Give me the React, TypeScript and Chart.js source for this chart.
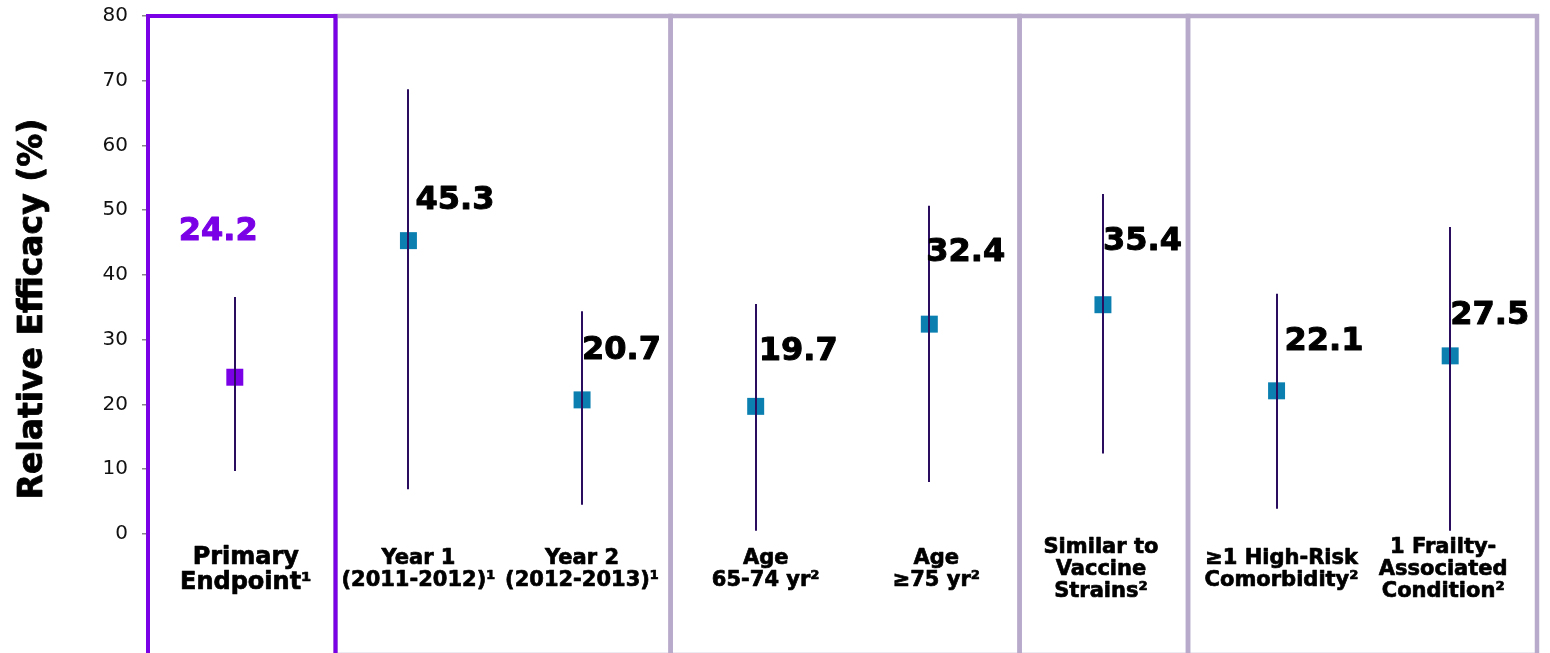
import React, { useEffect, useRef } from 'react';
import { Chart, registerables } from 'chart.js';

Chart.register(...registerables);

// ---- data ----
const categories: string[][] = [
  ['Primary', 'Endpoint¹'],
  ['Year 1', '(2011-2012)¹'],
  ['Year 2', '(2012-2013)¹'],
  ['Age', '65-74 yr²'],
  ['Age', '≥75 yr²'],
  ['Similar to', 'Vaccine', 'Strains²'],
  ['≥1 High-Risk', 'Comorbidity²'],
  ['1 Frailty-', 'Associated', 'Condition²'],
];
const efficacy = [24.2, 45.3, 20.7, 19.7, 32.4, 35.4, 22.1, 27.5];
const ciLower = [9.7, 6.9, 4.5, 0.5, 8.0, 12.4, 3.9, 0.5];
const ciUpper = [36.6, 68.7, 34.4, 35.5, 50.7, 52.5, 37.1, 47.4];
const yTickValues = [0, 10, 20, 30, 40, 50, 60, 70, 80];
const yAxisTitle = 'Relative Efficacy (%)';

// ---- style / layout ----
const PURPLE = '#7a00e6';
const TEAL = '#0a7fb0';
const PANEL_GRAY = '#b8aacb';
const ERR_COLOR = '#2a0d5e';
const FONT = '"DejaVu Sans", Verdana, sans-serif';
const panelEdges = [-0.5, 0.58, 2.51, 4.52, 5.49, 7.5];
const valueLabelOffsets: [number, number][] = [
  [-56, -146], [7, -40], [0, -49], [3, -55], [-3, -71], [0, -63], [8, -49], [0, -40],
];
const categoryDx = [11, 10, 0, 10, 7, -2, 5, -7];

function boldText(ctx: CanvasRenderingContext2D, t: string, x: number, y: number, w: number) {
  ctx.lineWidth = w;
  ctx.strokeStyle = ctx.fillStyle as string;
  ctx.lineJoin = 'round';
  ctx.strokeText(t, x, y);
  ctx.fillText(t, x, y);
}

const overlayPlugin = {
  id: 'overlay',
  beforeDatasetsDraw(chart: any) {
    const { ctx, chartArea, scales } = chart;
    const x = scales.x;
    const y = scales.y;
    const top = y.getPixelForValue(80);
    const bottom = chartArea.bottom + 2;
    ctx.save();
    ctx.strokeStyle = PANEL_GRAY;
    ctx.lineWidth = 4.5;
    for (let i = 1; i < panelEdges.length - 1; i++) {
      const l = x.getPixelForValue(panelEdges[i]);
      const r = x.getPixelForValue(panelEdges[i + 1]);
      ctx.strokeRect(l, top, r - l, bottom - top);
    }
    ctx.strokeStyle = PURPLE;
    ctx.lineWidth = 4;
    const l0 = x.getPixelForValue(panelEdges[0]);
    const r0 = x.getPixelForValue(panelEdges[1]);
    ctx.strokeRect(l0, top, r0 - l0, bottom - top);
    ctx.restore();
  },
  afterDatasetsDraw(chart: any) {
    const { ctx, scales } = chart;
    const x = scales.x;
    const y = scales.y;
    ctx.save();
    // error bars
    ctx.strokeStyle = ERR_COLOR;
    ctx.lineWidth = 2;
    efficacy.forEach((_, i) => {
      const px = Math.round(x.getPixelForValue(i));
      ctx.beginPath();
      ctx.moveTo(px, y.getPixelForValue(ciUpper[i]));
      ctx.lineTo(px, y.getPixelForValue(ciLower[i]));
      ctx.stroke();
    });
    // value labels
    ctx.font = `bold 32px ${FONT}`;
    ctx.textAlign = 'left';
    ctx.textBaseline = 'middle';
    efficacy.forEach((v, i) => {
      const px = x.getPixelForValue(i);
      const py = y.getPixelForValue(v);
      ctx.fillStyle = i === 0 ? PURPLE : '#000';
      boldText(ctx, v.toFixed(1), px + valueLabelOffsets[i][0], py + valueLabelOffsets[i][1], 1);
    });
    ctx.restore();
  },
  afterDraw(chart: any) {
    const { ctx, scales } = chart;
    const x = scales.x;
    ctx.save();
    ctx.fillStyle = '#000';
    ctx.textAlign = 'center';
    ctx.textBaseline = 'middle';
    categories.forEach((lines, i) => {
      const primary = i === 0;
      const size = primary ? 24 : 21;
      const lh = primary ? 25 : 22;
      ctx.font = `bold ${size}px ${FONT}`;
      const cx = x.getPixelForValue(i) + categoryDx[i];
      const cy = 570;
      const start = cy - ((lines.length - 1) * lh) / 2;
      lines.forEach((t, k) => boldText(ctx, t, cx, start + k * lh, 0.7));
    });
    // y-axis title
    ctx.translate(33, 309);
    ctx.rotate(-Math.PI / 2);
    ctx.font = `bold 33px ${FONT}`;
    boldText(ctx, yAxisTitle, 0, 0, 0.8);
    ctx.restore();
  },
};

export default function App() {
  const ref = useRef<HTMLCanvasElement>(null);
  useEffect(() => {
    if (!ref.current) return;
    const chart = new Chart(ref.current, {
      type: 'scatter',
      data: {
        datasets: [
          {
            data: efficacy.map((v, i) => ({ x: i, y: v })),
            pointStyle: 'rect',
            pointRadius: 12,
            pointHoverRadius: 12,
            pointBorderWidth: 0,
            pointBackgroundColor: efficacy.map((_, i) => (i === 0 ? PURPLE : TEAL)),
            showLine: false,
          },
        ],
      },
      options: {
        responsive: false,
        animation: false,
        devicePixelRatio: 1,
        layout: { padding: { top: 16, right: 13, bottom: 0, left: 0 } },
        plugins: { legend: { display: false }, tooltip: { enabled: false } },
        scales: {
          x: {
            type: 'linear',
            min: -0.5,
            max: 7.5,
            display: false,
          },
          y: {
            type: 'linear',
            min: -18.4,
            max: 80,
            border: { display: false },
            grid: { drawOnChartArea: false, drawTicks: true, tickLength: 6, color: '#888', lineWidth: 1.5 },
            ticks: {
              padding: 14,
              color: '#111',
              font: { family: FONT, size: 20 },
            },
            afterBuildTicks: (scale: any) => {
              scale.ticks = yTickValues.map((v) => ({ value: v }));
            },
            afterFit: (scale: any) => {
              scale.width = 148;
              scale.paddingTop = 0;
              scale.paddingBottom = 0;
            },
          },
        },
      },
      plugins: [overlayPlugin],
    });
    return () => chart.destroy();
  }, []);
  return (
    <div style={{ position: 'absolute', left: 0, top: 0, width: 1550, height: 653, overflow: 'hidden', background: '#fff' }}>
      <canvas ref={ref} width={1550} height={665} style={{ display: 'block' }} />
    </div>
  );
}
